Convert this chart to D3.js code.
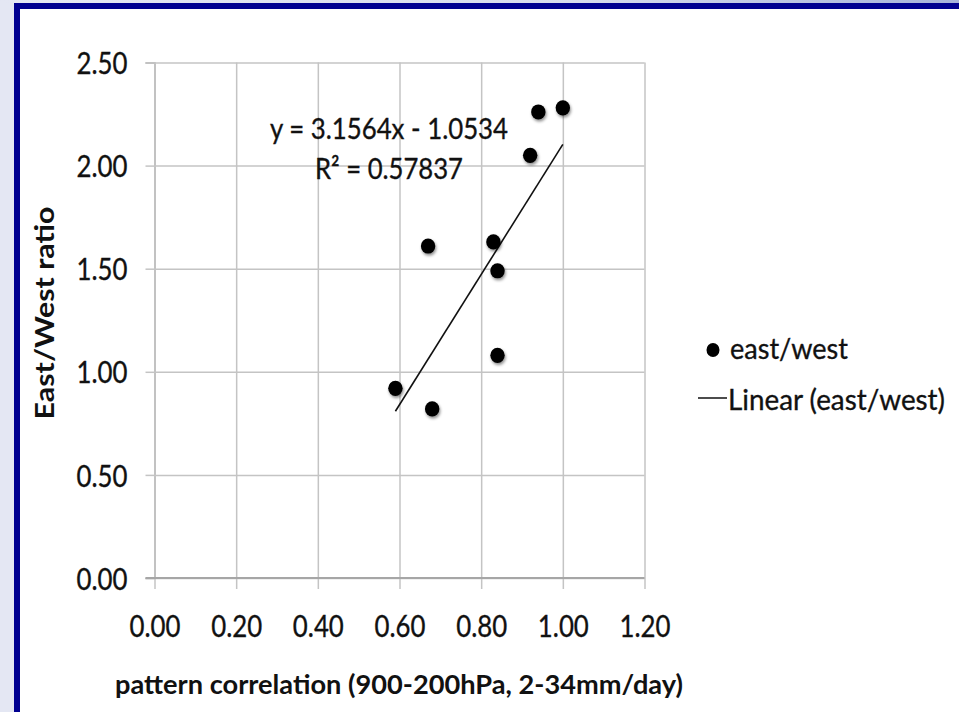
<!DOCTYPE html>
<html>
<head>
<meta charset="utf-8">
<script src="https://cdn.jsdelivr.net/npm/d3@7/dist/d3.min.js"></script>
<style>
  html, body { margin: 0; padding: 0; background: #ffffff; }
  svg { display: block; }
  text { font-family: Lato, "Open Sans", sans-serif; fill: #111; }
  text.reg { stroke: #111; stroke-width: 0.35px; }
</style>
</head>
<body>
<svg id="chart" width="959" height="712"></svg>
<script>
// Pattern correlation vs east/west rainfall ratio
const correlation = [0.59, 0.67, 0.68, 0.83, 0.84, 0.84, 0.92, 0.94, 1.00];
const ratio       = [0.92, 1.61, 0.82, 1.63, 1.49, 1.08, 2.05, 2.26, 2.28];

// Linear trend (as stated in the equation label)
const slope = 3.1564;
const intercept = -1.0534;
const rSquared = "0.57837";

const xTicks = [0, 0.2, 0.4, 0.6, 0.8, 1.0, 1.2];
const yTicks = [0, 0.5, 1.0, 1.5, 2.0, 2.5];

const seriesName = "east/west";
const trendName = "Linear (east/west)";
const xTitle = "pattern correlation (900-200hPa, 2-34mm/day)";
const yTitle = "East/West ratio";

const W = 959, H = 712;
const svg = d3.select("#chart");

// Slide frame: pale strip, gradient top band, dark blue rule
const defs = svg.append("defs");
const grad = defs.append("linearGradient").attr("id", "topband")
  .attr("x1", "0%").attr("x2", "100%");
grad.append("stop").attr("offset", "0%").attr("stop-color", "#e4e7f3");
grad.append("stop").attr("offset", "60%").attr("stop-color", "#d7dced");
grad.append("stop").attr("offset", "100%").attr("stop-color", "#a6b3da");

const shadow = defs.append("filter").attr("id", "dotshadow")
  .attr("x", "-50%").attr("y", "-50%").attr("width", "200%").attr("height", "200%");
shadow.append("feDropShadow").attr("dx", 1).attr("dy", 2)
  .attr("stdDeviation", 1.6).attr("flood-color", "#000").attr("flood-opacity", 0.45);

svg.append("rect").attr("width", W).attr("height", H).attr("fill", "#e4e7f3");
svg.append("rect").attr("width", W).attr("height", 3).attr("fill", "url(#topband)");
svg.append("rect").attr("x", 14).attr("y", 3).attr("width", W - 14).attr("height", H - 3).attr("fill", "#000090");
svg.append("rect").attr("x", 20).attr("y", 9).attr("width", W - 20).attr("height", H - 9).attr("fill", "#ffffff");

// Scales
const x = d3.scaleLinear().domain([0, 1.2]).range([154.5, 644.5]);
const y = d3.scaleLinear().domain([0, 2.5]).range([578, 62.5]);

const gridColor = "#c4c4c4";
const axisColor = "#a6a6a6";

// Horizontal gridlines with left tick marks
const yAxis = d3.axisLeft(y).tickValues(yTicks).tickFormat(d3.format(".2f"))
  .tickSize(9).tickPadding(18);
const gy = svg.append("g").attr("transform", `translate(${x(0)},0)`).call(yAxis);
gy.select(".domain").attr("stroke", axisColor).attr("stroke-width", 1.5);
gy.selectAll(".tick line").attr("stroke", gridColor).attr("stroke-width", 1.5);
gy.selectAll(".tick").append("line")
  .attr("x1", 0).attr("x2", x(1.2) - x(0))
  .attr("stroke", gridColor).attr("stroke-width", 1.5);
gy.selectAll(".tick text").attr("class", "reg")
  .attr("fill", "#111").attr("font-size", 31)
  .attr("textLength", 51).attr("lengthAdjust", "spacingAndGlyphs")
  .attr("dy", "0.36em");

// Vertical gridlines with bottom tick marks
const xAxis = d3.axisBottom(x).tickValues(xTicks).tickFormat(d3.format(".2f"))
  .tickSize(11).tickPadding(26);
const gx = svg.append("g").attr("transform", `translate(0,${y(0)})`).call(xAxis);
gx.select(".domain").remove();
gx.selectAll(".tick line").attr("stroke", gridColor).attr("stroke-width", 1.5);
gx.selectAll(".tick").append("line")
  .attr("y1", 0).attr("y2", y(2.5) - y(0))
  .attr("stroke", gridColor).attr("stroke-width", 1.5);
gx.selectAll(".tick text").attr("class", "reg")
  .attr("fill", "#111").attr("font-size", 31)
  .attr("textLength", 51).attr("lengthAdjust", "spacingAndGlyphs");

// X axis baseline drawn over the gridlines
svg.append("line")
  .attr("x1", x(0) - 9).attr("x2", x(1.2))
  .attr("y1", y(0)).attr("y2", y(0))
  .attr("stroke", axisColor).attr("stroke-width", 2);

// Trendline over the range of the data
const xExt = d3.extent(correlation);
svg.append("line")
  .attr("x1", x(xExt[0])).attr("y1", y(slope * xExt[0] + intercept))
  .attr("x2", x(xExt[1])).attr("y2", y(slope * xExt[1] + intercept))
  .attr("stroke", "#111").attr("stroke-width", 1.6);

// Data points
const points = correlation.map((c, i) => ({ c, r: ratio[i] }));
svg.append("g").selectAll("ellipse").data(points).join("ellipse")
  .attr("cx", d => x(d.c)).attr("cy", d => y(d.r))
  .attr("rx", 7.2).attr("ry", 7.6)
  .attr("fill", "#000").attr("filter", "url(#dotshadow)");

// Equation label
svg.append("text").attr("class", "reg").attr("x", 389).attr("y", 139).attr("text-anchor", "middle")
  .attr("font-size", 29).attr("textLength", 238).attr("lengthAdjust", "spacingAndGlyphs")
  .text(`y = ${slope}x - ${Math.abs(intercept)}`);
svg.append("text").attr("class", "reg").attr("x", 389).attr("y", 179).attr("text-anchor", "middle")
  .attr("font-size", 29).attr("textLength", 148).attr("lengthAdjust", "spacingAndGlyphs")
  .text(`R\u00B2 = ${rSquared}`);

// Axis titles
svg.append("text").attr("x", 399).attr("y", 694).attr("text-anchor", "middle")
  .attr("font-size", 27).attr("font-weight", "bold")
  .attr("textLength", 568).attr("lengthAdjust", "spacingAndGlyphs")
  .text(xTitle);
svg.append("text").attr("transform", "translate(54,313) rotate(-90)")
  .attr("text-anchor", "middle")
  .attr("font-size", 26).attr("font-weight", "bold")
  .attr("textLength", 213).attr("lengthAdjust", "spacingAndGlyphs")
  .text(yTitle);

// Legend
const leg = svg.append("g");
leg.append("ellipse").attr("cx", 713).attr("cy", 350).attr("rx", 6.5).attr("ry", 7).attr("fill", "#000");
leg.append("text").attr("class", "reg").attr("x", 730).attr("y", 359)
  .attr("font-size", 29).attr("textLength", 118).attr("lengthAdjust", "spacingAndGlyphs")
  .text(seriesName);
leg.append("line").attr("x1", 698).attr("x2", 727).attr("y1", 398).attr("y2", 398)
  .attr("stroke", "#111").attr("stroke-width", 1.5);
leg.append("text").attr("class", "reg").attr("x", 728).attr("y", 410)
  .attr("font-size", 29).attr("textLength", 217).attr("lengthAdjust", "spacingAndGlyphs")
  .text(trendName);
</script>
</body>
</html>
